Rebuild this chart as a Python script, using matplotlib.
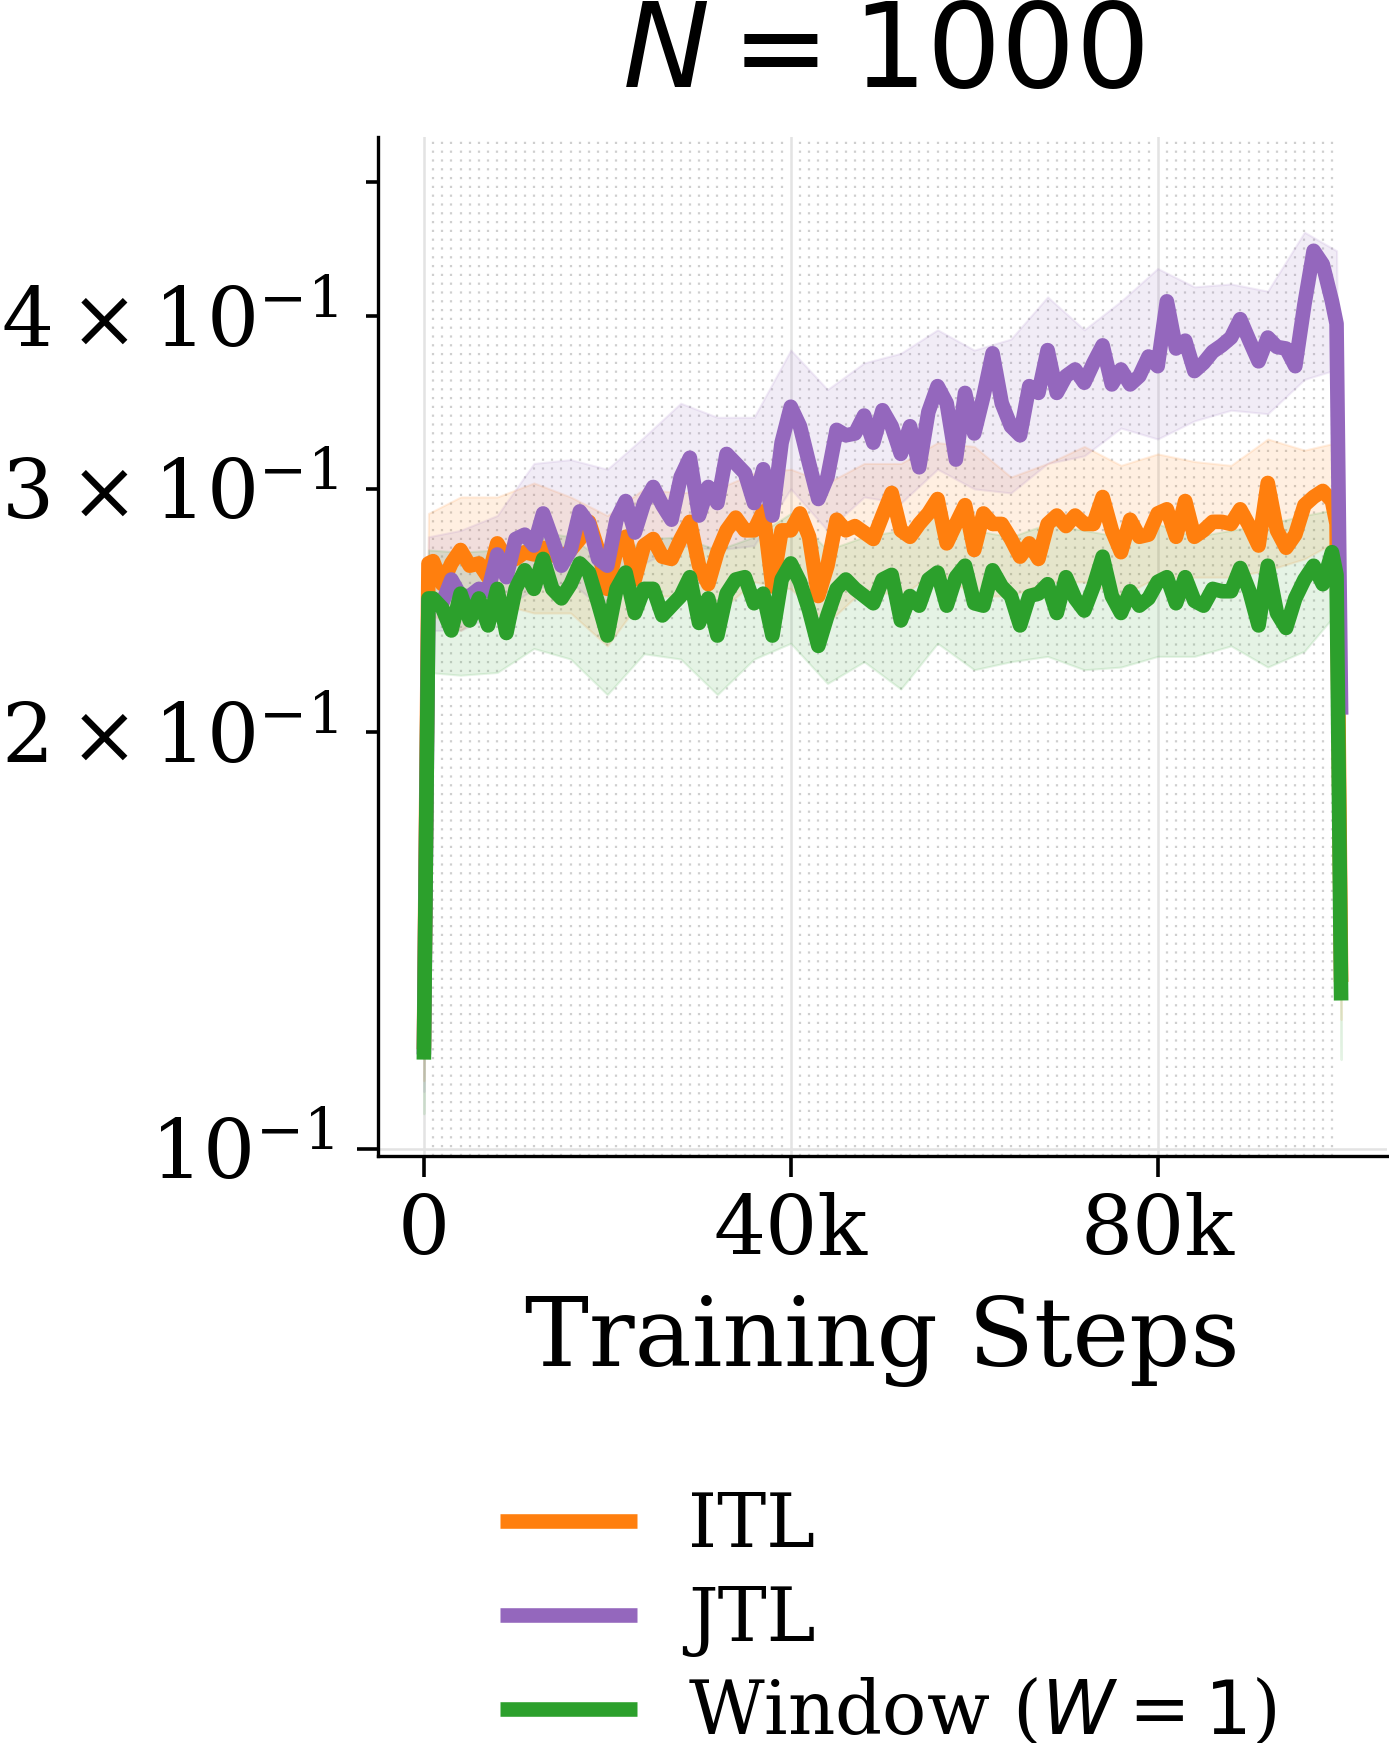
import matplotlib
matplotlib.use("Agg")
import matplotlib.pyplot as plt
from matplotlib.ticker import FixedLocator, FixedFormatter

plt.rcParams['font.family'] = ['DejaVu Serif']
plt.rcParams['mathtext.fontset'] = 'dejavusans'

# ---------------- data ----------------
steps = [0, 500] + list(range(1000, 100000, 1000)) + [99500, 100000]

itl_mean = [0.118, 0.265,
    0.266, 0.256, 0.265, 0.271, 0.264, 0.265, 0.259, 0.274, 0.267, 0.267,
    0.270, 0.269, 0.272, 0.269, 0.267, 0.271, 0.276, 0.284, 0.271, 0.254,
    0.271, 0.277, 0.258, 0.273, 0.276, 0.268, 0.267, 0.276, 0.284, 0.264,
    0.256, 0.270, 0.280, 0.286, 0.280, 0.280, 0.289, 0.255, 0.280, 0.280,
    0.288, 0.277, 0.251, 0.264, 0.285, 0.280, 0.282, 0.279, 0.276, 0.287,
    0.298, 0.280, 0.277, 0.283, 0.288, 0.295, 0.274, 0.283, 0.292, 0.271,
    0.288, 0.283, 0.283, 0.276, 0.268, 0.274, 0.267, 0.283, 0.287, 0.282,
    0.287, 0.283, 0.283, 0.296, 0.280, 0.270, 0.285, 0.277, 0.278, 0.288,
    0.290, 0.277, 0.294, 0.277, 0.280, 0.284, 0.284, 0.283, 0.290, 0.282,
    0.273, 0.303, 0.280, 0.272, 0.278, 0.292, 0.296, 0.299, 0.294,
    0.283, 0.132]

jtl_mean = [0.117, 0.249,
    0.249, 0.248, 0.258, 0.251, 0.251, 0.254, 0.253, 0.269, 0.259, 0.276,
    0.278, 0.273, 0.288, 0.276, 0.264, 0.271, 0.289, 0.283, 0.267, 0.264,
    0.285, 0.294, 0.279, 0.293, 0.301, 0.292, 0.285, 0.306, 0.316, 0.287,
    0.301, 0.293, 0.318, 0.313, 0.308, 0.293, 0.310, 0.287, 0.324, 0.344,
    0.333, 0.313, 0.295, 0.306, 0.331, 0.328, 0.329, 0.339, 0.324, 0.342,
    0.333, 0.318, 0.333, 0.311, 0.341, 0.356, 0.346, 0.315, 0.352, 0.329,
    0.350, 0.376, 0.346, 0.333, 0.328, 0.356, 0.352, 0.378, 0.352, 0.362,
    0.366, 0.358, 0.370, 0.381, 0.357, 0.366, 0.357, 0.362, 0.374, 0.368,
    0.410, 0.379, 0.384, 0.365, 0.370, 0.377, 0.381, 0.386, 0.398, 0.384,
    0.371, 0.386, 0.380, 0.379, 0.368, 0.408, 0.446, 0.436, 0.410,
    0.395, 0.206]

win_mean = [0.116, 0.250,
    0.250, 0.246, 0.237, 0.252, 0.241, 0.250, 0.239, 0.254, 0.236, 0.254,
    0.262, 0.254, 0.267, 0.254, 0.250, 0.256, 0.265, 0.261, 0.248, 0.235,
    0.254, 0.261, 0.244, 0.254, 0.254, 0.243, 0.247, 0.251, 0.259, 0.240,
    0.250, 0.235, 0.252, 0.258, 0.259, 0.248, 0.252, 0.235, 0.258, 0.265,
    0.257, 0.245, 0.231, 0.243, 0.254, 0.258, 0.254, 0.251, 0.248, 0.258,
    0.260, 0.241, 0.251, 0.247, 0.258, 0.261, 0.247, 0.259, 0.264, 0.248,
    0.247, 0.262, 0.255, 0.251, 0.239, 0.251, 0.252, 0.256, 0.244, 0.259,
    0.250, 0.245, 0.255, 0.268, 0.251, 0.244, 0.253, 0.247, 0.250, 0.257,
    0.259, 0.248, 0.259, 0.249, 0.247, 0.254, 0.253, 0.253, 0.263, 0.253,
    0.239, 0.264, 0.244, 0.238, 0.250, 0.258, 0.264, 0.256, 0.270,
    0.260, 0.128]

band_steps = [0, 500] + list(range(4000, 100000, 4000)) + [99500, 100000]

itl_upper = [0.126, 0.288, 0.296, 0.296, 0.303, 0.296, 0.287, 0.300, 0.298, 0.300,
             0.308, 0.310, 0.303, 0.313, 0.313, 0.324, 0.322, 0.306, 0.313, 0.322,
             0.312, 0.318, 0.314, 0.312, 0.326, 0.320, 0.324, 0.140]
itl_lower = [0.112, 0.244, 0.237, 0.248, 0.244, 0.244, 0.231, 0.251, 0.251, 0.244,
             0.257, 0.254, 0.240, 0.254, 0.251, 0.262, 0.251, 0.251, 0.257, 0.257,
             0.251, 0.259, 0.259, 0.259, 0.262, 0.267, 0.275, 0.124]
jtl_upper = [0.125, 0.277, 0.280, 0.287, 0.313, 0.315, 0.310, 0.327, 0.346, 0.338,
             0.338, 0.378, 0.354, 0.370, 0.376, 0.391, 0.378, 0.385, 0.413, 0.391,
             0.410, 0.433, 0.420, 0.422, 0.417, 0.460, 0.446, 0.215]
jtl_lower = [0.110, 0.237, 0.237, 0.244, 0.254, 0.257, 0.244, 0.265, 0.273, 0.271,
             0.273, 0.300, 0.280, 0.296, 0.293, 0.310, 0.300, 0.298, 0.313, 0.317,
             0.332, 0.326, 0.336, 0.342, 0.340, 0.360, 0.366, 0.200]
win_upper = [0.122, 0.271, 0.270, 0.271, 0.280, 0.277, 0.265, 0.276, 0.277, 0.271,
             0.277, 0.288, 0.271, 0.277, 0.280, 0.287, 0.280, 0.277, 0.283, 0.280,
             0.277, 0.283, 0.277, 0.280, 0.283, 0.287, 0.290, 0.140]
win_lower = [0.106, 0.221, 0.220, 0.221, 0.230, 0.226, 0.213, 0.228, 0.226, 0.213,
             0.226, 0.232, 0.217, 0.225, 0.215, 0.232, 0.222, 0.225, 0.227, 0.222,
             0.223, 0.227, 0.227, 0.231, 0.223, 0.229, 0.244, 0.116]

series_labels = ["ITL", "JTL", "Window ($W = 1$)"]
series_colors = ["#ff7f0e", "#9467bd", "#2ca02c"]
x_ticks = [0, 40000, 80000]
x_tick_labels = ["0", "40k", "80k"]
minor_steps = list(range(1000, 100000, 1000))
title_text = "$N = 1000$"
xlabel_text = "Training Steps"

# ---------------- figure ----------------
W, H = 1389, 1743
fig = plt.figure(figsize=(W / 100, H / 100), dpi=100)
ax = fig.add_axes([378 / W, 1 - 1156 / H, (1387 - 378) / W, (1156 - 137) / H])

means = [itl_mean, jtl_mean, win_mean]
uppers = [itl_upper, jtl_upper, win_upper]
lowers = [itl_lower, jtl_lower, win_lower]

for lo, up, c in zip(lowers, uppers, series_colors):
    ax.fill_between(band_steps, lo, up, color=c, alpha=0.12, linewidth=1.5, zorder=2)

for m, c, lab in zip(means, series_colors, series_labels):
    ax.plot(steps, m, color=c, lw=10.5, label=lab, zorder=3,
            solid_joinstyle='round', solid_capstyle='butt')

ax.set_yscale('log')
ax.set_ylim(0.0988, 0.539)
ax.set_xlim(-5000, 105000)

ax.xaxis.set_major_locator(FixedLocator(x_ticks))
ax.xaxis.set_major_formatter(FixedFormatter(x_tick_labels))
ax.xaxis.set_minor_locator(FixedLocator(minor_steps))

for s in ['top', 'right']:
    ax.spines[s].set_visible(False)
for s in ['left', 'bottom']:
    ax.spines[s].set_linewidth(2.4)

ax.tick_params(axis='both', which='major', labelsize=59, length=15, width=2.6, pad=11)
ax.tick_params(axis='y', which='major', pad=17)
ax.tick_params(axis='y', which='minor', labelsize=59, length=8.5, width=2.6, pad=21)
ax.tick_params(axis='x', which='minor', length=0)

ax.set_axisbelow(True)
ax.grid(which='major', color='#e3e3e3', lw=1.8)
ax.grid(which='minor', axis='x', color='#cfcfcf', lw=1.6, linestyle=(0, (1, 2.96)))

ax.set_title(title_text, fontsize=84, pad=36)
ax.set_xlabel(xlabel_text, fontsize=69, labelpad=16)

fig.legend(loc='upper center', bbox_to_anchor=(888 / W, 1 - 1424 / H), frameon=False,
           fontsize=53, handlelength=1.87, labelspacing=0.28, handletextpad=0.69)

fig.savefig("out.png", dpi=100)
